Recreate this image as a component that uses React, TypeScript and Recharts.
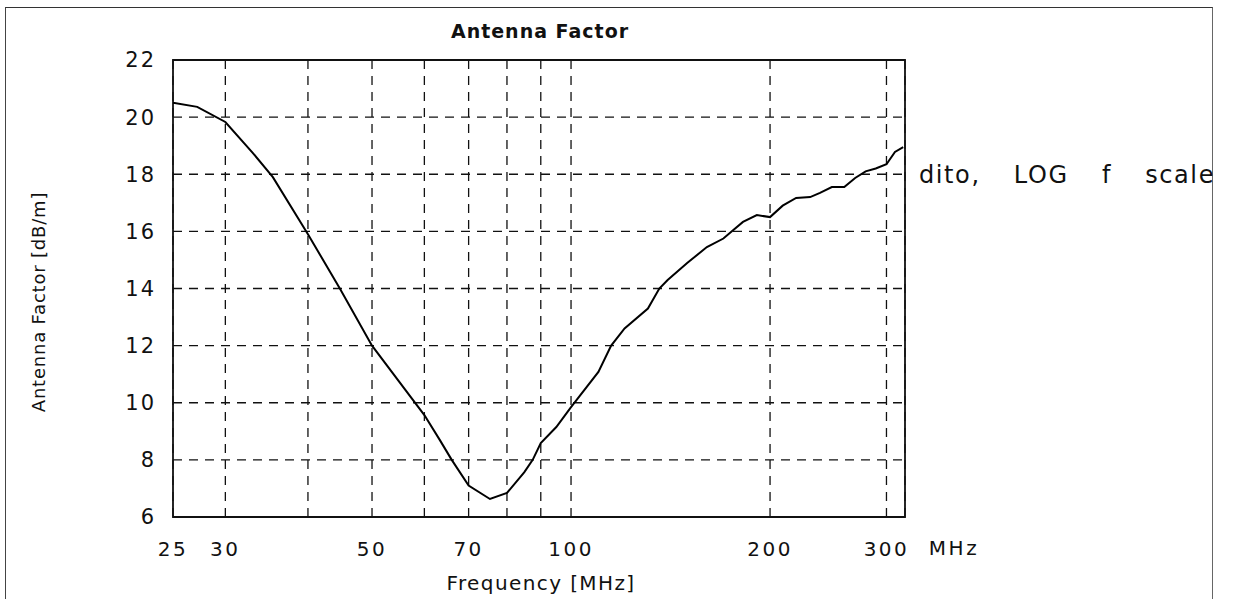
import {
  CartesianGrid,
  Line,
  LineChart,
  ReferenceArea,
  XAxis,
  YAxis,
} from 'recharts';

const freqMHz = [
  25, 27.2, 30, 33, 35.4, 40, 44.7, 50, 60, 63.3, 66, 70, 75.4, 80, 85, 87.5,
  90, 95, 100, 110, 115, 120.5, 130.7, 136, 140, 150, 160.5, 170, 176, 182,
  191, 200, 209, 219, 230, 238, 248, 259, 269, 279, 289, 300, 309, 318,
];
const factorDb = [
  20.5, 20.36, 19.83, 18.75, 17.9, 15.9, 14.0, 12.0, 9.57, 8.7, 8.0, 7.1,
  6.63, 6.84, 7.57, 8.0, 8.59, 9.15, 9.85, 11.08, 12.0, 12.6, 13.3, 14.0, 14.3,
  14.9, 15.45, 15.75, 16.05, 16.33, 16.57, 16.5, 16.9, 17.17, 17.2, 17.35,
  17.55, 17.55, 17.87, 18.1, 18.2, 18.35, 18.78, 18.95,
];

const xGridTicks = [25, 30, 40, 50, 60, 70, 80, 90, 100, 200, 300];
const xLabelTicks = [25, 30, 50, 70, 100, 200, 300];
const yTicks = [6, 8, 10, 12, 14, 16, 18, 20, 22];

const data = freqMHz.map((f, i) => ({ f, af: factorDb[i] }));

const FONT = '"DejaVu Sans", sans-serif';

function FreqTick(props: any) {
  const { x, y, payload } = props;
  if (!xLabelTicks.includes(payload.value)) return null;
  return (
    <text
      x={x}
      y={y + 31}
      textAnchor="middle"
      fill="#111"
      fontSize={20}
      fontFamily={FONT}
      letterSpacing={2.5}
    >
      {payload.value}
    </text>
  );
}

export default function App() {
  return (
    <div
      style={{
        position: 'absolute',
        left: 0,
        top: 0,
        width: 1233,
        height: 599,
        background: '#fff',
        fontFamily: FONT,
        color: '#111',
      }}
    >
      {/* outer frame of the figure */}
      <div
        style={{
          position: 'absolute',
          left: 5,
          top: 7,
          width: 1206,
          height: 600,
          borderLeft: '1px solid #444',
          borderTop: '1.5px solid #333',
          borderRight: '1px solid #666',
        }}
      />

      <LineChart
        width={1233}
        height={599}
        data={data}
        margin={{ top: 60, right: 328, bottom: 42, left: 113 }}
      >
        <CartesianGrid stroke="#111" strokeDasharray="9 7" strokeWidth={1.3} />
        <XAxis
          dataKey="f"
          type="number"
          scale="log"
          domain={[25, 320]}
          ticks={xGridTicks}
          allowDataOverflow
          height={40}
          axisLine={false}
          tickLine={false}
          tick={<FreqTick />}
          interval={0}
        />
        <YAxis
          type="number"
          domain={[6, 22]}
          ticks={yTicks}
          width={60}
          axisLine={false}
          tickLine={false}
          tickSize={0}
          tickMargin={17}
          interval={0}
          tick={{ fill: '#111', fontSize: 21, fontFamily: FONT, letterSpacing: 2 }}
        />
        <ReferenceArea
          x1={25}
          x2={320}
          y1={6}
          y2={22}
          fill="none"
          fillOpacity={0}
          stroke="#111"
          strokeWidth={1.8}
        />
        <Line
          type="linear"
          dataKey="af"
          stroke="#000"
          strokeWidth={2}
          dot={false}
          isAnimationActive={false}
        />
      </LineChart>

      <div
        style={{
          position: 'absolute',
          left: 540,
          top: 31,
          transform: 'translate(-50%, -50%)',
          fontSize: 19,
          fontWeight: 'bold',
          letterSpacing: 1,
          whiteSpace: 'nowrap',
        }}
      >
        Antenna Factor
      </div>

      <div
        style={{
          position: 'absolute',
          left: 38,
          top: 302,
          transform: 'translate(-50%, -50%) rotate(-90deg)',
          fontSize: 18,
          letterSpacing: 0.8,
          whiteSpace: 'nowrap',
        }}
      >
        Antenna Factor [dB/m]
      </div>

      <div
        style={{
          position: 'absolute',
          left: 541,
          top: 583,
          transform: 'translate(-50%, -50%)',
          fontSize: 20,
          letterSpacing: 1.4,
          whiteSpace: 'nowrap',
        }}
      >
        Frequency [MHz]
      </div>

      <div
        style={{
          position: 'absolute',
          left: 954,
          top: 548,
          transform: 'translate(-50%, -50%)',
          fontSize: 20,
          letterSpacing: 2.5,
          whiteSpace: 'nowrap',
        }}
      >
        MHz
      </div>

      <div
        style={{
          position: 'absolute',
          left: 919,
          top: 175,
          transform: 'translateY(-50%)',
          fontSize: 24,
          wordSpacing: 24,
          letterSpacing: 1.6,
          whiteSpace: 'nowrap',
        }}
      >
        dito, LOG f scale
      </div>
    </div>
  );
}
